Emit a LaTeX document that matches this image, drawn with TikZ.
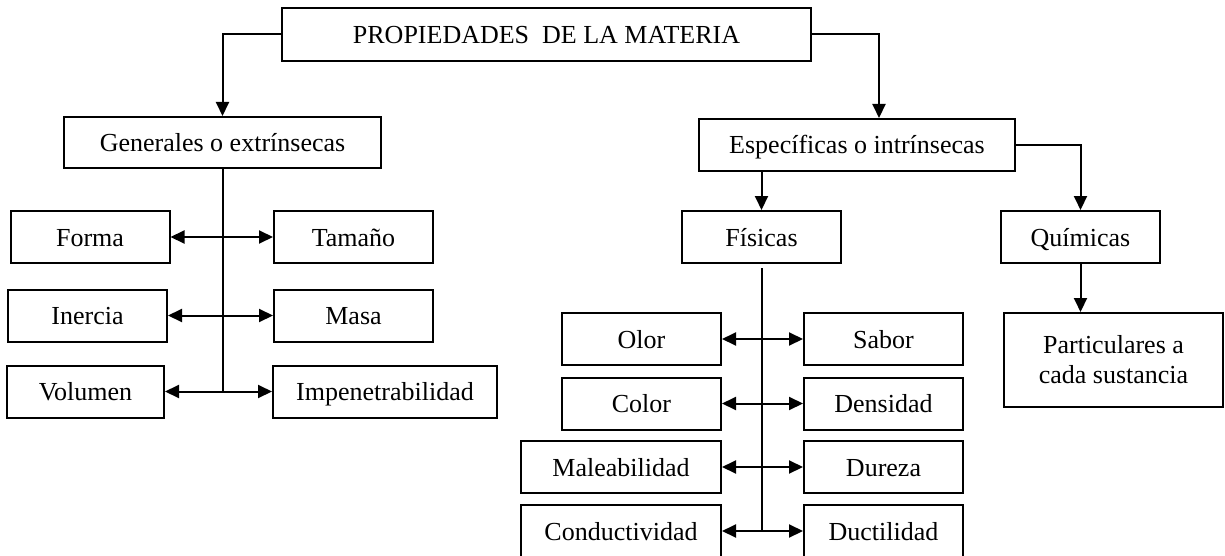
\documentclass[tikz,border=0pt]{standalone}
\usepackage{fontspec}
\setmainfont{Liberation Serif}
\usetikzlibrary{arrows.meta}
\tikzset{>={Triangle[length=7pt, width=6.5pt]}}
\tikzset{frame/.style={draw, line width=1pt, inner sep=0pt, minimum width=79.5pt, minimum height=26pt, align=center, font=\fontsize{13}{15}\selectfont}}
\tikzset{box/.style={frame, text height=10pt, text depth=1pt}}
\tikzset{link/.style={black, line width=1pt}}
\tikzset{arr/.style={link, ->}}
\tikzset{dbl/.style={link, <->}}

\begin{document}
\begin{tikzpicture}[x=0.5pt, y=-0.5pt]
	\useasboundingbox (0,0) rectangle (1225,556);

	% Root
	\node[box, minimum width=264.5pt, minimum height=26.5pt] (root) at (546.5,34.5) {PROPIEDADES\ \ DE LA MATERIA};

	% Two Branches
	\node[box, minimum width=158.5pt, minimum height=25.5pt] (gen) at (222.5,142.5) {Generales o extrínsecas};
	\node[box, minimum width=158pt] (esp) at (857,145) {Específicas o intrínsecas};

	% General Properties
	\node[box] (forma) at (90,237) {Forma};
	\node[box] (tamano) at (353.5,237) {Tamaño};
	\node[box] (inercia) at (87.5,315.5) {Inercia};
	\node[box] (masa) at (353.5,315.5) {Masa};
	\node[box, minimum width=78.5pt] (volumen) at (85.5,391.5) {Volumen};
	\node[box, minimum width=112pt] (impen) at (385,391.5) {Impenetrabilidad};

	% Specific Properties
	\node[box] (fisicas) at (761.5,237) {Físicas};
	\node[box] (quimicas) at (1080.5,237) {Químicas};
	\node[frame, minimum width=109.5pt, minimum height=47pt] (partic) at (1113.5,360) {Particulares a\\cada sustancia};

	\node[box] (olor) at (641.5,339) {Olor};
	\node[box] (sabor) at (883.5,339) {Sabor};
	\node[box] (color) at (641.5,403.5) {Color};
	\node[box] (densidad) at (883.5,403.5) {Densidad};
	\node[box, minimum width=100pt] (maleab) at (621,467) {Maleabilidad};
	\node[box] (dureza) at (883.5,467) {Dureza};
	\node[box, minimum width=100pt] (conduct) at (621,531) {Conductividad};
	\node[box] (ductil) at (883.5,531) {Ductilidad};

	% Arrows from the Root
	\draw[arr] (root.west) -| (gen.north);
	\draw[arr] (root.east) -| ([xshift=11pt]esp.north);

	% General Branch
	\draw[link] (gen.south) -- (gen.south |- volumen.east);
	\draw[dbl] (forma.east) -- (tamano.west);
	\draw[dbl] (inercia.east) -- (masa.west);
	\draw[dbl] (volumen.east) -- (impen.west);

	% Specific Branch
	\draw[arr] (fisicas.north |- esp.south) -- (fisicas.north);
	\draw[arr] (esp.east) -| (quimicas.north);
	\draw[arr] (quimicas.south) -- (quimicas.south |- partic.north);

	% Physical Properties
	\draw[link] ([yshift=-2pt]fisicas.south) -- (fisicas.south |- conduct.east);
	\draw[dbl] (olor.east) -- (sabor.west);
	\draw[dbl] (color.east) -- (densidad.west);
	\draw[dbl] (maleab.east) -- (dureza.west);
	\draw[dbl] (conduct.east) -- (ductil.west);
\end{tikzpicture}
\end{document}
